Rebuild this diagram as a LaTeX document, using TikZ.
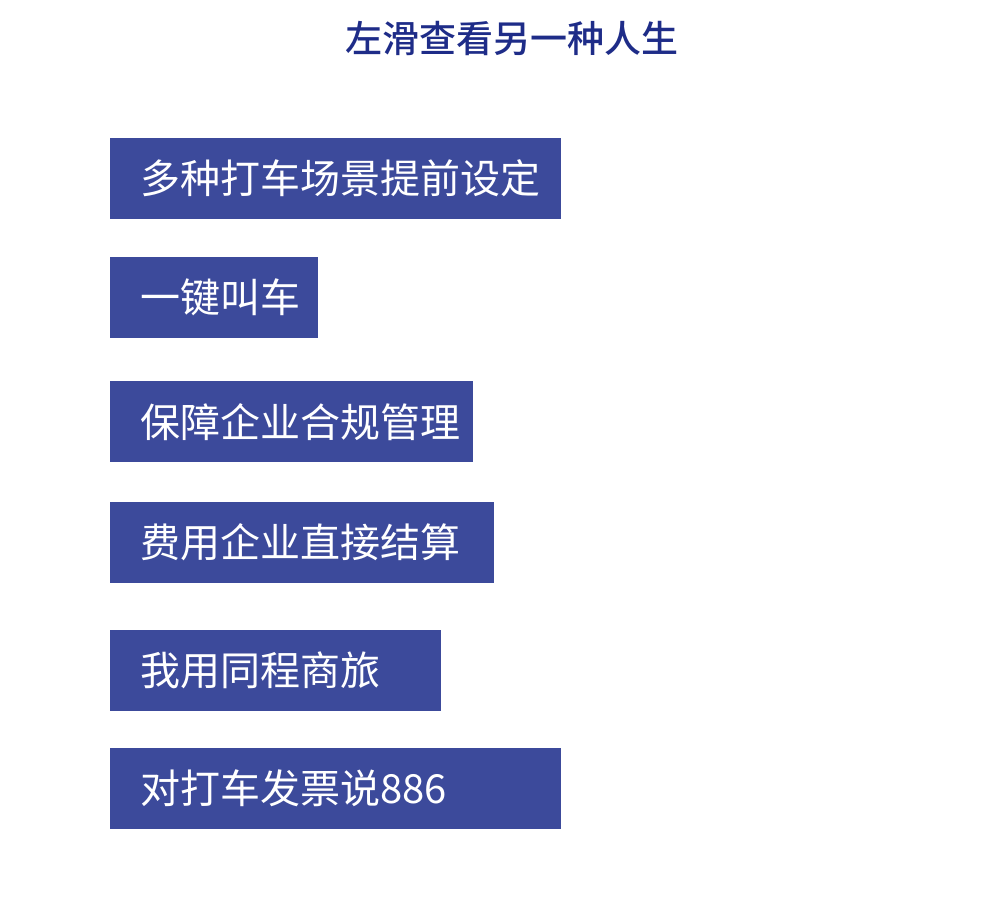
\documentclass[tikz,border=0pt]{standalone}
\usepackage{fontspec}
\setmainfont{Noto Sans CJK SC}
\newfontfamily\titlefont{Noto Sans CJK SC Medium}
\definecolor{titleblue}{HTML}{1E2C88}
\definecolor{cardblue}{HTML}{3C4A9B}
\tikzset{
  card/.style={rectangle,fill=cardblue,text=white,anchor=north west,
    minimum height=81pt,inner xsep=30pt,inner ysep=0pt,align=left,
    font=\fontsize{40}{40}\selectfont},
}
\begin{document}
\begin{tikzpicture}
[x=1pt,y=-1pt]
\useasboundingbox[fill=white] (0,0) rectangle (1000,898);
\node[text=titleblue,font=\titlefont\fontsize{37}{37}\selectfont] (title) at (512,38) {左滑查看另一种人生};

\node[card,text width=391pt] (scene) at (110,138) {多种打车场景提前设定};
\node[card,text width=148pt] (onekey) at (110,257) {一键叫车};
\node[card,text width=303pt] (comply) at (110,381) {保障企业合规管理};
\node[card,text width=324pt] (settle) at (110,502) {费用企业直接结算};
\node[card,text width=271pt] (tongcheng) at (110,630) {我用同程商旅};
\node[card,text width=391pt] (invoice) at (110,748) {对打车发票说886};
\end{tikzpicture}
\end{document}
